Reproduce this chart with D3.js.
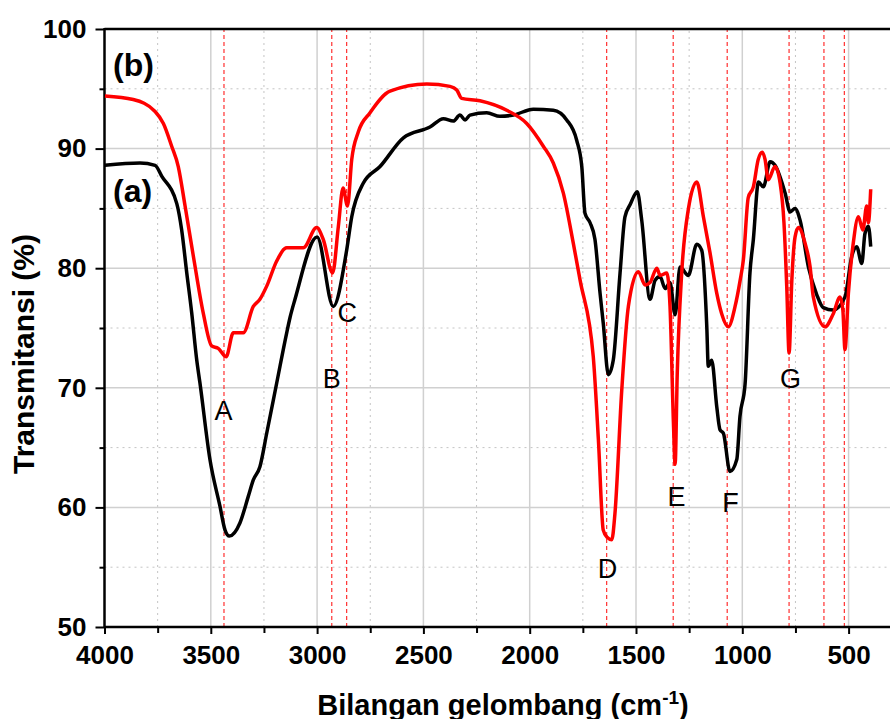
<!DOCTYPE html>
<html>
<head>
<meta charset="utf-8">
<script src="https://cdn.jsdelivr.net/npm/d3@7"></script>
<style>
  body { margin: 0; background: #fff; }
  svg { display: block; font-family: "Liberation Sans", Arial, sans-serif; }
  .tick text { font-weight: bold; font-size: 26px; fill: #000; }
  .title { font-weight: bold; font-size: 29px; }
  .peak { font-size: 27px; }
</style>
</head>
<body>
<div class="chart"></div>
<script>
// sample (a), black: wavenumber / transmittance
const aWave = [3998, 3833, 3762, 3731, 3660, 3637, 3613, 3590, 3566, 3551, 3504, 3457, 3433, 3413, 3363, 3324,
  3300, 3269, 3237, 3190, 3143, 3127, 3104, 3000, 2924, 2861, 2837, 2783, 2704, 2594, 2469, 2406, 2359, 2328,
  2304, 2281, 2202, 2140, 2077, 1983, 1889, 1826, 1779, 1755, 1740, 1716, 1693, 1669, 1654, 1630, 1607, 1575,
  1552, 1528, 1494, 1473, 1434, 1410, 1387, 1363, 1340, 1316, 1293, 1254, 1214, 1191, 1167, 1160, 1144, 1120,
  1105, 1089, 1058, 1026, 1011, 987, 964, 948, 924, 901, 869, 846, 799, 775, 752, 728, 689, 650, 619, 572, 517,
  485, 462, 438, 423, 407, 396];
const aTrans = [88.6, 88.8, 88.6, 87.7, 85.4, 83.2, 79.6, 76.3, 72.3, 70.4, 64.0, 60.1, 58.1, 57.6, 58.7, 60.9,
  62.3, 63.4, 66.2, 70.4, 74.6, 75.9, 77.4, 82.6, 76.8, 81.5, 84.3, 87.1, 88.5, 90.9, 91.8, 92.5, 92.3, 92.8,
  92.4, 92.8, 93.0, 92.7, 92.8, 93.3, 93.2, 92.4, 90.7, 88.5, 84.6, 83.8, 82.4, 77.9, 75.4, 71.1, 72.3, 79.6,
  84.3, 85.3, 86.4, 84.0, 77.4, 79.0, 79.3, 78.3, 78.8, 76.1, 80.1, 79.4, 82.0, 81.5, 75.1, 71.8, 72.3, 68.4,
  66.5, 66.2, 63.0, 64.0, 67.6, 70.3, 79.6, 82.4, 87.2, 86.8, 88.9, 88.6, 86.3, 84.7, 85.0, 84.0, 80.1, 77.8, 76.7, 76.5, 77.6,
  81.0, 81.8, 80.4, 82.9, 83.5, 81.8];

// sample (b), red
const bWave = [3998, 3865, 3762, 3723, 3684, 3653, 3621, 3582, 3535, 3496, 3465, 3428, 3394, 3347, 3300, 3269,
  3237, 3190, 3143, 3065, 3002, 2971, 2927, 2900, 2878, 2857, 2837, 2806, 2751, 2657, 2484, 2375, 2343, 2320,
  2234, 2108, 2014, 1936, 1889, 1842, 1795, 1763, 1701, 1677, 1654, 1636, 1614, 1599, 1567, 1536, 1489, 1457,
  1434, 1402, 1387, 1355, 1340, 1324, 1316, 1306, 1285, 1254, 1214, 1183, 1152, 1120, 1097, 1066, 1034, 1010,
  995, 972, 948, 925, 906, 893, 878, 846, 822, 804, 791, 780, 767, 752, 736, 705, 681, 666, 611, 572, 540, 527,
  517, 501, 478, 454, 433, 415, 407, 396];
const bTrans = [94.4, 94.1, 93.1, 92.1, 90.2, 88.5, 85.2, 81.0, 76.2, 73.5, 73.3, 72.6, 74.6, 74.6, 76.8, 77.4,
  78.5, 80.6, 81.7, 81.7, 83.4, 82.4, 79.6, 83.5, 86.7, 85.2, 89.1, 91.4, 93.0, 94.8, 95.4, 95.2, 94.9, 94.2,
  94.0, 93.2, 92.1, 90.2, 88.8, 86.3, 82.1, 79.0, 72.6, 65.7, 58.1, 57.5, 57.3, 59.5, 69.8, 76.8, 79.7, 78.6,
  78.8, 80.0, 79.4, 79.6, 76.8, 67.1, 63.6, 71.2, 79.6, 84.9, 87.2, 84.3, 81.3, 77.9, 76.2, 75.1, 76.8, 79.0,
  80.7, 85.9, 86.8, 89.1, 89.7, 89.1, 87.4, 88.5, 87.1, 83.8, 78.5, 72.9, 79.0, 82.6, 83.4, 82.1, 80.1, 77.6, 75.1, 76.2, 77.6, 76.5,
  73.2, 77.9, 82.1, 84.3, 83.2, 85.2, 83.8, 86.6];

// peak markers (dashed red) and their letters
const markerWave = [3438, 2931, 2861, 1638, 1325, 1071, 780, 616, 520];
const peakNames = ["A", "B", "C", "D", "E", "F", "G"];
const peakWave = [3440, 2931, 2858, 1634, 1309, 1055, 773];
const peakTrans = [67.3, 70.0, 75.5, 54.1, 60.1, 59.6, 70.0];

const seriesNames = ["(b)", "(a)"];
const seriesLabelWave = [3960, 3960];
const seriesLabelTrans = [96.1, 85.5];

const xMajor = [4000, 3500, 3000, 2500, 2000, 1500, 1000, 500];
const xMinor = [3750, 3250, 2750, 2250, 1750, 1250, 750];
const yMajor = [50, 60, 70, 80, 90, 100];
const yMinor = [55, 65, 75, 85, 95];

const W = 890, H = 719;
const margin = { top: 29, left: 104.5 };
const plotH = 598;

const x = d3.scaleLinear().domain([4000, 300]).range([margin.left, margin.left + 3700 * 0.2126]);
const y = d3.scaleLinear().domain([50, 100]).range([margin.top + plotH, margin.top]);

const svg = d3.select(".chart").append("svg")
  .attr("width", W)
  .attr("height", H);

// grid
const x0 = x.range()[0], x1 = x.range()[1];
const y0 = y.range()[0], y1 = y.range()[1];

svg.append("g").selectAll("line").data(xMinor).enter().append("line")
  .attr("x1", d => x(d)).attr("x2", d => x(d)).attr("y1", y0).attr("y2", y1)
  .attr("stroke", "#c4c4c4").attr("stroke-width", 1).attr("stroke-dasharray", "2,4");
svg.append("g").selectAll("line").data(yMinor).enter().append("line")
  .attr("x1", x0).attr("x2", x1).attr("y1", d => y(d)).attr("y2", d => y(d))
  .attr("stroke", "#c4c4c4").attr("stroke-width", 1).attr("stroke-dasharray", "2,4");
svg.append("g").selectAll("line").data(xMajor.slice(1)).enter().append("line")
  .attr("x1", d => x(d)).attr("x2", d => x(d)).attr("y1", y0).attr("y2", y1)
  .attr("stroke", "#d0d0d0").attr("stroke-width", 1.5);
svg.append("g").selectAll("line").data(yMajor.slice(1)).enter().append("line")
  .attr("x1", x0).attr("x2", x1).attr("y1", d => y(d)).attr("y2", d => y(d))
  .attr("stroke", "#d0d0d0").attr("stroke-width", 1.5);

// peak marker lines
svg.append("g").selectAll("line").data(markerWave).enter().append("line")
  .attr("x1", d => x(d)).attr("x2", d => x(d)).attr("y1", y0).attr("y2", y1)
  .attr("stroke", "#ff3030").attr("stroke-width", 1.2).attr("stroke-dasharray", "4,3");

// axes
const xAxis = d3.axisBottom(x).tickValues(xMajor).tickSize(7).tickPadding(12).tickFormat(d3.format("d"));
const yAxis = d3.axisLeft(y).tickValues(yMajor).tickSize(9).tickPadding(9);

svg.append("g").attr("transform", "translate(0," + y0 + ")").call(xAxis);
svg.append("g").attr("transform", "translate(0," + y0 + ")")
  .call(d3.axisBottom(x).tickValues(xMinor).tickSize(6).tickFormat(""));
svg.append("g").attr("transform", "translate(" + x0 + ",0)").call(yAxis);
svg.append("g").attr("transform", "translate(" + x0 + ",0)")
  .call(d3.axisLeft(y).tickValues(yMinor).tickSize(5).tickFormat(""));

svg.selectAll(".domain").remove();
svg.selectAll(".tick line").attr("stroke", "#000").attr("stroke-width", 2);

// frame (left, bottom, top)
svg.append("line").attr("x1", x0).attr("x2", x0).attr("y1", y1 - 1).attr("y2", y0 + 1)
  .attr("stroke", "#000").attr("stroke-width", 2.5);
svg.append("line").attr("x1", x0).attr("x2", W).attr("y1", y0).attr("y2", y0)
  .attr("stroke", "#000").attr("stroke-width", 2.5);
svg.append("line").attr("x1", x0).attr("x2", W).attr("y1", y1).attr("y2", y1)
  .attr("stroke", "#000").attr("stroke-width", 2.5);

// spectra
const line = d3.line()
  .curve(d3.curveMonotoneX)
  .x(d => x(d[0]))
  .y(d => y(d[1]));

const aData = aWave.map((w, i) => [w, aTrans[i]]);
const bData = bWave.map((w, i) => [w, bTrans[i]]);

svg.append("path").datum(aData)
  .attr("fill", "none").attr("stroke", "#000").attr("stroke-width", 3.5)
  .attr("stroke-linejoin", "round").attr("d", line);
svg.append("path").datum(bData)
  .attr("fill", "none").attr("stroke", "#ff0000").attr("stroke-width", 3.5)
  .attr("stroke-linejoin", "round").attr("d", line);

// peak letters
svg.append("g").selectAll("text").data(peakNames).enter().append("text")
  .attr("class", "peak")
  .attr("x", (d, i) => x(peakWave[i]))
  .attr("y", (d, i) => y(peakTrans[i]))
  .attr("text-anchor", "middle")
  .text(d => d);

// series labels
svg.append("g").selectAll("text").data(seriesNames).enter().append("text")
  .attr("class", "title")
  .attr("x", (d, i) => x(seriesLabelWave[i]))
  .attr("y", (d, i) => y(seriesLabelTrans[i]))
  .style("font-size", "32px")
  .text(d => d);

// axis titles
const xt = svg.append("text").attr("class", "title")
  .attr("x", 503).attr("y", 715).attr("text-anchor", "middle");
xt.append("tspan").text("Bilangan gelombang (cm");
xt.append("tspan").attr("dy", -11).style("font-size", "19px").text("-1");
xt.append("tspan").attr("dy", 11).text(")");

svg.append("text").attr("class", "title")
  .attr("transform", "translate(34,354) rotate(-90)")
  .attr("text-anchor", "middle")
  .style("font-size", "30px")
  .text("Transmitansi (%)");
</script>
</body>
</html>
